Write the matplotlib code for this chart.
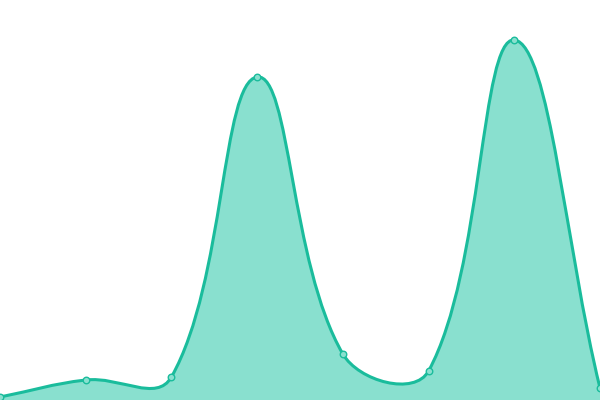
import numpy as np
import matplotlib
matplotlib.use("Agg")
import matplotlib.pyplot as plt
from matplotlib.path import Path
from matplotlib.patches import PathPatch

# data
labels = ["a", "b", "c", "d", "e", "f", "g", "h"]
values = [3, 20, 23, 323, 46, 29, 360, 12]

line_col = "#1abc9c"
fill_col = "#89e0cf"
tension = 0.4

fig = plt.figure(figsize=(6, 4), dpi=100)
ax = fig.add_axes([0, 0, 1, 1])
ax.set_xlim(0, len(values) - 1)
ax.set_ylim(0, 400)
ax.axis("off")

# spline control points computed in pixel space (chart.js style)
pts = ax.transData.transform(np.column_stack([np.arange(len(values)), values]))
n = len(pts)
verts = [pts[0]]
codes = [Path.MOVETO]
cps = []
for i in range(n):
	prev = pts[i - 1] if i > 0 else pts[i]
	cur = pts[i]
	nxt = pts[i + 1] if i < n - 1 else pts[i]
	d01 = np.hypot(*(cur - prev))
	d12 = np.hypot(*(nxt - cur))
	tot = d01 + d12
	s01 = d01 / tot if tot else 0
	s12 = d12 / tot if tot else 0
	cps.append((cur - tension * s01 * (nxt - prev), cur + tension * s12 * (nxt - prev)))
for i in range(n - 1):
	verts += [cps[i][1], cps[i + 1][0], pts[i + 1]]
	codes += [Path.CURVE4] * 3

inv = ax.transData.inverted()
verts_d = inv.transform(np.array(verts))
line_path = Path(verts_d, codes)

fill_verts = list(verts_d) + [[n - 1, 0], [0, 0], verts_d[0]]
fill_codes = codes + [Path.LINETO, Path.LINETO, Path.CLOSEPOLY]
ax.add_patch(PathPatch(Path(fill_verts, fill_codes), facecolor=fill_col, edgecolor="none"))
ax.add_patch(PathPatch(line_path, facecolor="none", edgecolor=line_col, lw=2.2, clip_on=False))

ax.scatter(range(n), values, s=22, facecolor=fill_col, edgecolor=line_col, linewidth=1, zorder=5, clip_on=False)

fig.savefig("out.png", dpi=100)
